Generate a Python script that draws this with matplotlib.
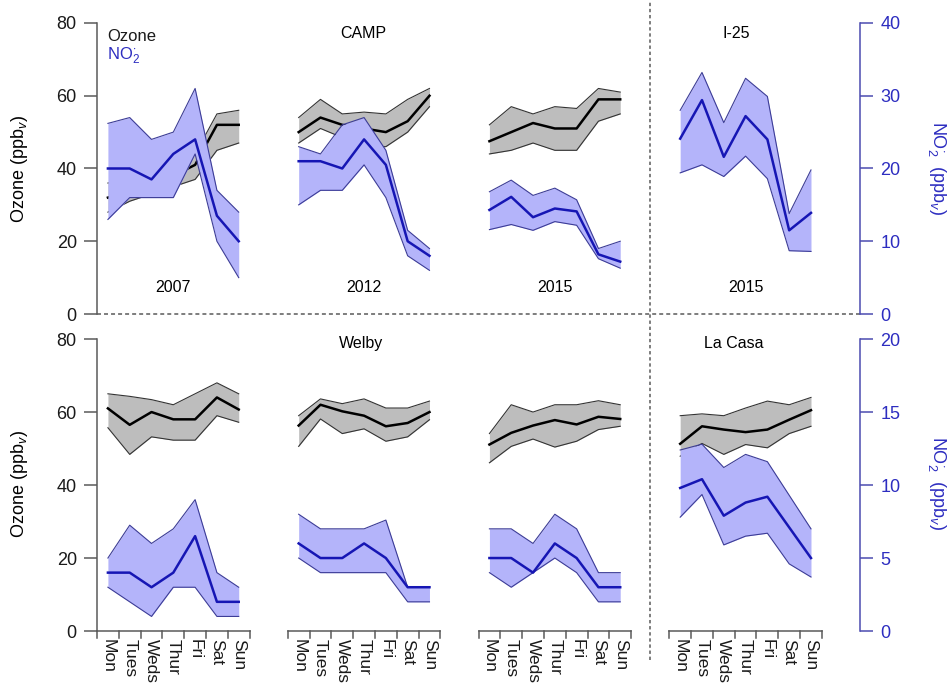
import numpy as np
import matplotlib.pyplot as plt
import matplotlib.transforms as mtransforms
from matplotlib.lines import Line2D

plt.rcParams['font.family'] = ['Liberation Sans', 'DejaVu Sans']
plt.rcParams['mathtext.fontset'] = 'custom'
plt.rcParams['mathtext.rm'] = 'Liberation Sans'
plt.rcParams['mathtext.it'] = 'Liberation Sans:italic'

days = ['Mon', 'Tues', 'Weds', 'Thur', 'Fri', 'Sat', 'Sun']

# ozone (ppbv): mean, low, high  /  NO2 (ppbv): mean, low, high
camp07_o3 = [32, 34, 36, 38, 41, 52, 52]
camp07_o3_lo = [28, 31, 33, 35, 37, 45, 47]
camp07_o3_hi = [36, 37, 39, 41, 44, 55, 56]
camp07_no2 = [20, 20, 18.5, 22, 24, 13.5, 10]
camp07_no2_lo = [13, 16, 16, 16, 22, 10, 5]
camp07_no2_hi = [26.2, 27, 24, 25, 31, 17, 14]

camp12_o3 = [50, 54, 52, 51, 50, 53, 60]
camp12_o3_lo = [47, 51, 48.5, 46, 46, 50, 57]
camp12_o3_hi = [54, 59, 55, 55.5, 55, 59, 62]
camp12_no2 = [21, 21, 20, 24, 20.5, 10, 8]
camp12_no2_lo = [15, 17, 17, 20.5, 16, 8, 6]
camp12_no2_hi = [23, 22, 26, 27, 22.5, 11.5, 9]

camp15_o3 = [47.5, 50, 52.5, 51, 51, 59, 59]
camp15_o3_lo = [44, 45, 47, 45, 45, 53, 55]
camp15_o3_hi = [52, 57, 55, 57, 56.5, 62, 61]
camp15_no2 = [14.3, 16.1, 13.3, 14.5, 14.1, 8.2, 7.2]
camp15_no2_lo = [11.6, 12.3, 11.5, 12.7, 12.2, 7.6, 6.3]
camp15_no2_hi = [16.8, 18.4, 16.3, 17.3, 15.7, 9, 10]

i25_no2 = [24.1, 29.4, 21.6, 27.2, 24, 11.5, 13.9]
i25_no2_lo = [19.4, 20.5, 18.9, 21.7, 18.6, 8.7, 8.6]
i25_no2_hi = [28, 33.2, 26.3, 32.4, 29.9, 13.8, 19.8]

welby07_o3 = [61, 56.5, 60, 58, 58, 64, 60.7]
welby07_o3_lo = [55.7, 48.4, 53.2, 52.3, 52.3, 59, 57.2]
welby07_o3_hi = [65, 64.3, 63.4, 62, 65, 68, 65]
welby07_no2 = [4, 4, 3, 4, 6.5, 2, 2]
welby07_no2_lo = [3, 2, 1, 3, 3, 1, 1]
welby07_no2_hi = [5, 7.25, 6, 7, 9, 4, 3]

welby12_o3 = [56.3, 62, 60.2, 59, 56.1, 57, 60]
welby12_o3_lo = [50.6, 58.1, 54.1, 55.4, 52, 53.2, 57.9]
welby12_o3_hi = [59, 63.6, 62.3, 63.6, 61.1, 61.1, 63]
welby12_no2 = [6, 5, 5, 6, 5, 3, 3]
welby12_no2_lo = [5, 4, 4, 4, 4, 2, 2]
welby12_no2_hi = [8, 7, 7, 7, 7.6, 3, 3]

welby15_o3 = [51.1, 54.3, 56.3, 57.8, 56.6, 58.7, 58.1]
welby15_o3_lo = [46.1, 50.6, 52.6, 50.4, 52, 55.2, 56.1]
welby15_o3_hi = [54.1, 62, 60, 62, 62, 63.1, 62]
welby15_no2 = [5, 5, 4, 6, 5, 3, 3]
welby15_no2_lo = [4, 3, 4, 5, 4, 2, 2]
welby15_no2_hi = [7, 7, 6, 8, 7, 4, 4]

lacasa_o3 = [51.3, 56.1, 55.2, 54.5, 55.2, 57.9, 60.5]
lacasa_o3_lo = [47.9, 51.4, 48.4, 51.1, 50.2, 54.1, 56.1]
lacasa_o3_hi = [59, 59.5, 59, 61.1, 63, 62, 64]
lacasa_no2 = [9.8, 10.4, 7.9, 8.8, 9.2, 7.1, 5.0]
lacasa_no2_lo = [7.8, 9.35, 5.9, 6.5, 6.7, 4.6, 3.7]
lacasa_no2_hi = [12.4, 12.8, 11.2, 12.1, 11.6, 9.3, 7.0]

years = ['2007', '2012', '2015', '2015']

# colours
GREY_AX = '#5a5a5a'
BLUE_AX = '#4b4bb0'
BLUE_TXT = '#2d2dc0'
O3_FILL, O3_EDGE, O3_LINE = '#bdbdbd', '#333333', '#000000'
NO2_FILL, NO2_EDGE, NO2_LINE = '#b4b4fa', '#3c3c96', '#1616b4'

STRIDE = 8.75   # width of one day-group plus the gap


def xpos(g):
    return g * STRIDE + 0.5 + np.arange(7)


def band(ax, x, mean, lo, hi, fill, edge, line):
    ax.fill_between(x, lo, hi, color=fill, lw=0)
    ax.plot(x, lo, color=edge, lw=0.8)
    ax.plot(x, hi, color=edge, lw=0.8)
    ax.plot(x, mean, color=line, lw=1.8)


def style(ax, ax2, ymax, ymax2, step2):
    ax.set_xlim(0, 35)
    ax.set_ylim(0, ymax)
    ax2.set_ylim(0, ymax2)
    for a in (ax, ax2):
        for s in ('top', 'bottom'):
            a.spines[s].set_visible(False)
    ax.spines['right'].set_visible(False)
    ax2.spines['left'].set_visible(False)
    ax.spines['left'].set_color(GREY_AX)
    ax.spines['left'].set_linewidth(1.1)
    ax2.spines['right'].set_color(BLUE_AX)
    ax2.spines['right'].set_linewidth(1.1)
    ax.set_yticks(np.arange(0, ymax + 1, 20))
    ax2.set_yticks(np.arange(0, ymax2 + 0.1, step2))
    ax.tick_params(axis='y', length=9.5, width=1.1, color=GREY_AX,
                   labelsize=13, pad=5, labelcolor='#1a1a1a')
    ax2.tick_params(axis='y', length=9.5, width=1.1, color=BLUE_AX,
                    labelsize=13, pad=5, labelcolor=BLUE_TXT)


fig = plt.figure(figsize=(9.52, 6.88), dpi=100)
ax_t = fig.add_axes([0.1019, 0.5436, 0.8015, 0.4230])
ax_t2 = ax_t.twinx()
ax_b = fig.add_axes([0.1019, 0.0828, 0.8015, 0.4244])
ax_b2 = ax_b.twinx()

# top row: CAMP 2007/2012/2015 and I-25 2015 (NO2 right axis 0-40)
band(ax_t, xpos(0), camp07_o3, camp07_o3_lo, camp07_o3_hi, O3_FILL, O3_EDGE, O3_LINE)
band(ax_t, xpos(1), camp12_o3, camp12_o3_lo, camp12_o3_hi, O3_FILL, O3_EDGE, O3_LINE)
band(ax_t, xpos(2), camp15_o3, camp15_o3_lo, camp15_o3_hi, O3_FILL, O3_EDGE, O3_LINE)
band(ax_t2, xpos(0), camp07_no2, camp07_no2_lo, camp07_no2_hi, NO2_FILL, NO2_EDGE, NO2_LINE)
band(ax_t2, xpos(1), camp12_no2, camp12_no2_lo, camp12_no2_hi, NO2_FILL, NO2_EDGE, NO2_LINE)
band(ax_t2, xpos(2), camp15_no2, camp15_no2_lo, camp15_no2_hi, NO2_FILL, NO2_EDGE, NO2_LINE)
band(ax_t2, xpos(3), i25_no2, i25_no2_lo, i25_no2_hi, NO2_FILL, NO2_EDGE, NO2_LINE)
style(ax_t, ax_t2, 80, 40, 10)
ax_t.set_xticks([])
ax_t.axhline(0, color=GREY_AX, lw=1.1, dashes=(2.6, 2.0), clip_on=False)

# bottom row: Welby 2007/2012/2015 and La Casa (NO2 right axis 0-20)
band(ax_b, xpos(0), welby07_o3, welby07_o3_lo, welby07_o3_hi, O3_FILL, O3_EDGE, O3_LINE)
band(ax_b, xpos(1), welby12_o3, welby12_o3_lo, welby12_o3_hi, O3_FILL, O3_EDGE, O3_LINE)
band(ax_b, xpos(2), welby15_o3, welby15_o3_lo, welby15_o3_hi, O3_FILL, O3_EDGE, O3_LINE)
band(ax_b, xpos(3), lacasa_o3, lacasa_o3_lo, lacasa_o3_hi, O3_FILL, O3_EDGE, O3_LINE)
band(ax_b2, xpos(0), welby07_no2, welby07_no2_lo, welby07_no2_hi, NO2_FILL, NO2_EDGE, NO2_LINE)
band(ax_b2, xpos(1), welby12_no2, welby12_no2_lo, welby12_no2_hi, NO2_FILL, NO2_EDGE, NO2_LINE)
band(ax_b2, xpos(2), welby15_no2, welby15_no2_lo, welby15_no2_hi, NO2_FILL, NO2_EDGE, NO2_LINE)
band(ax_b2, xpos(3), lacasa_no2, lacasa_no2_lo, lacasa_no2_hi, NO2_FILL, NO2_EDGE, NO2_LINE)
style(ax_b, ax_b2, 80, 20, 5)

# day labels with bracket-style category axis under each group
ax_b.set_xticks(np.concatenate([xpos(g) for g in range(4)]))
ax_b.set_xticklabels(days * 4, rotation=-90, fontsize=12.5, color='#1a1a1a')
ax_b.tick_params(axis='x', length=0, pad=6)
for g in range(4):
    x0 = g * STRIDE
    ax_b.plot([x0, x0 + 7], [0, 0], color=GREY_AX, lw=1.1, clip_on=False)
    for i in range(8):
        ax_b.plot([x0 + i, x0 + i], [0, -1.9], color=GREY_AX, lw=1.1, clip_on=False)

# separator between CAMP/Welby and I-25/La Casa
trans = mtransforms.blended_transform_factory(ax_t.transData, fig.transFigure)
fig.add_artist(Line2D([3 * STRIDE - 0.875] * 2, [0.04, 1.0], transform=trans,
                      color=GREY_AX, lw=1.1, dashes=(2.2, 1.8)))

# panel text
for g, yr in enumerate(years):
    ax_t.text(g * STRIDE + 3.5, 7.4, yr, ha='center', va='center', fontsize=11.5)
ax_t.text(12.2, 77.2, 'CAMP', ha='center', va='center', fontsize=11.5)
ax_t.text(29.3, 77.2, 'I-25', ha='center', va='center', fontsize=11.5)
ax_b.text(12.1, 78.8, 'Welby', ha='center', va='center', fontsize=11.5)
ax_b.text(29.2, 78.8, 'La Casa', ha='center', va='center', fontsize=11.5)
ax_t.text(0.45, 76.4, 'Ozone', ha='left', va='center', fontsize=12, color='#1a1a1a')
ax_t.text(0.45, 71.0, r'NO$_2^{\cdot}$', ha='left', va='center', fontsize=12, color=BLUE_TXT)

# axis titles
for yc in (0.755, 0.297):
    fig.text(0.021, yc, r'Ozone (ppb$_v$)', rotation=90, ha='center', va='center', fontsize=13)
    fig.text(0.984, yc, r'NO$_2^{\cdot}$  (ppb$_v$)', rotation=-90, ha='center', va='center',
             fontsize=13, color=BLUE_TXT)

fig.savefig('out.png', dpi=100)
